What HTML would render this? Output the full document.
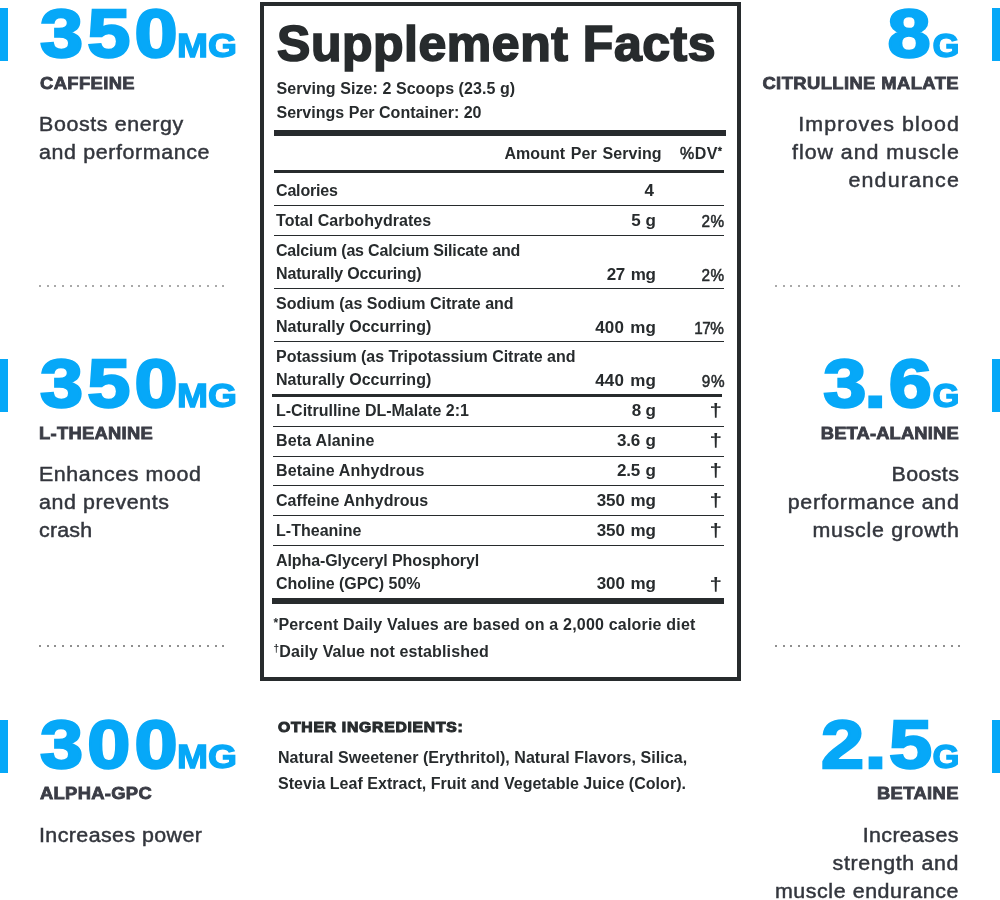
<!DOCTYPE html>
<html lang="en">
<head>
<meta charset="utf-8">
<title>Supplement Facts</title>
<style>
  html,body{margin:0;padding:0;background:#fff;}
  body{width:1000px;height:900px;overflow:hidden;position:relative;
       font-family:"Liberation Sans",Arial,sans-serif;color:#272b2d;}
  .page{position:absolute;left:0;top:0;width:1000px;height:900px;overflow:hidden;will-change:transform;}

  /* ---------- side stat blocks ---------- */
  .stat{position:absolute;width:250px;height:200px;}
  .stat.l{left:0;}
  .stat.r{left:750px;}
  .stat .bar{position:absolute;top:8px;width:8px;height:53px;background:#06a8f8;}
  .stat.l .bar{left:0;}
  .stat.r .bar{right:0;}
  .stat .n,.stat .u{position:absolute;white-space:nowrap;color:#06a8f8;font-weight:700;line-height:1;}
  .stat .n{top:-1px;font-size:68px;-webkit-text-stroke:2.4px #06a8f8;transform:scaleX(1.14);}
  .stat .u{top:28px;font-size:34px;-webkit-text-stroke:1.3px #06a8f8;transform:scaleX(1.095);}
  .stat.l .n{left:39.5px;transform-origin:0 0;letter-spacing:3.6px;}
  .stat.l .u{left:176.5px;transform-origin:0 0;}
  .stat.r .n{right:65px;transform-origin:100% 0;letter-spacing:2.3px;}
  .stat.r .u{right:41px;transform-origin:100% 0;transform:scaleX(1.02);}
  .stat .name{position:absolute;top:72.5px;font-size:17px;line-height:22px;font-weight:700;color:#3a3c45;white-space:nowrap;-webkit-text-stroke:.8px #3a3c45;}
  .stat .desc{position:absolute;top:109.5px;margin:0;font-size:20px;line-height:28px;color:#33363d;white-space:nowrap;}
  .stat .desc span{display:block;transform:scaleX(1.07);-webkit-text-stroke:.45px #33363d;}
  .stat.l .desc span{transform-origin:0 50%;}
  .stat.r .desc span{transform-origin:100% 50%;}
  .stat.l .name{left:40px;transform:scaleX(1.08);transform-origin:0 50%;}
  .stat.l .desc{left:39px;}
  .stat.r .name,.stat.r .desc{right:41.5px;text-align:right;}
  .stat.r .name{transform:scaleX(1.08);transform-origin:100% 50%;}
  .dots{position:absolute;height:2px;width:186px;
        background:repeating-linear-gradient(90deg,#a9a9a9 0 2px,transparent 2px 7.64px);}

  .dots.d2{background:repeating-linear-gradient(90deg,#8f8f8f 0 2px,transparent 2px 7.64px);}

  /* ---------- facts panel ---------- */
  .facts{position:absolute;left:260px;top:2px;width:473px;height:671px;border:4px solid #272b2d;}
  .facts *{position:absolute;white-space:nowrap;margin:0;}
  .facts h1{left:13px;top:8px;font-size:50px;line-height:60px;font-weight:700;-webkit-text-stroke:1.7px #272b2d;}
  .facts .sv{left:12.5px;font-size:16px;line-height:23px;font-weight:700;}
  .rule{left:10px;width:450px;background:#272b2d;}
  .row{left:12px;width:448px;height:23px;font-size:16px;line-height:23px;font-weight:700;}
  .row .nm{left:0;top:0;}
  .row .nm span{position:static;display:block;}
  .row .amt{right:68px;top:.5px;text-align:right;font-size:17px;word-spacing:1.2px;}
  .row .dv{right:0;top:1px;text-align:right;font-weight:400;font-size:17px;-webkit-text-stroke:.55px #272b2d;transform:scaleX(.9);transform-origin:100% 50%;}
  .row .dg{right:2px;top:.5px;font-weight:700;font-size:18px;transform:scaleX(1.25);transform-origin:100% 50%;}
  .row.two{height:46px;}
  .row.two .amt{top:24.5px;}
  .row.two .dv{top:25px;}
  .row.two .dg{top:22.5px;}
  .row.last .amt{top:23px;}
  .row.last .dg{top:24px;}
  .hd .amt{right:62.5px;top:0;font-size:16px;}
  .hd .dv{right:2px;top:0;font-size:16px;transform:none;}
  .hd .dv b{position:static;font-weight:700;-webkit-text-stroke:0;}
  .hd .dv sup{position:static;font-size:11px;line-height:0;vertical-align:4px;}
  .fn{left:9.5px;font-size:16px;line-height:23px;font-weight:700;}
  .fn sup{position:static;font-size:10px;line-height:0;vertical-align:5px;}
  .fn sup.as{font-size:12px;vertical-align:3px;}

  /* ---------- other ingredients ---------- */
  .other{position:absolute;left:278px;top:717px;width:420px;}
  .other h2{margin:0;font-size:14px;line-height:20px;font-weight:700;-webkit-text-stroke:1px #272b2d;white-space:nowrap;transform:scaleX(1.12);transform-origin:0 50%;}
  .other p{margin:8px 0 0;font-size:16px;line-height:25.5px;font-weight:700;white-space:nowrap;}
  .other p span{display:block;}
</style>
</head>
<body>
<div class="page">

  <!-- left column -->
  <section class="stat l" style="top:0px">
    <span class="bar"></span>
    <span class="n">350</span><span class="u">MG</span>
    <div class="name" style="letter-spacing:0.37px">CAFFEINE</div>
    <p class="desc"><span style="letter-spacing:0.57px">Boosts energy</span><span style="letter-spacing:0.58px">and performance</span></p>
  </section>
  <div class="dots" style="left:39px;top:285px"></div>

  <section class="stat l" style="top:350px">
    <span class="bar" style="top:9px;height:53px"></span>
    <span class="n">350</span><span class="u">MG</span>
    <div class="name" style="letter-spacing:0.26px;left:39px">L-THEANINE</div>
    <p class="desc"><span style="letter-spacing:0.56px">Enhances mood</span><span style="letter-spacing:0.53px">and prevents</span><span style="letter-spacing:0.2px">crash</span></p>
  </section>
  <div class="dots d2" style="left:39px;top:645px"></div>

  <section class="stat l" style="top:711px">
    <span class="bar" style="top:9px;height:53px"></span>
    <span class="n">300</span><span class="u">MG</span>
    <div class="name" style="letter-spacing:0.29px;top:72px">ALPHA-GPC</div>
    <p class="desc"><span style="letter-spacing:0.39px">Increases power</span></p>
  </section>

  <!-- right column -->
  <section class="stat r" style="top:0px">
    <span class="bar"></span>
    <span class="n" style="right:67px">8</span><span class="u">G</span>
    <div class="name" style="letter-spacing:0.39px;margin-right:-0.39px">CITRULLINE MALATE</div>
    <p class="desc"><span style="letter-spacing:1.02px;margin-right:-1.02px">Improves blood</span><span style="letter-spacing:0.89px;margin-right:-0.89px">flow and muscle</span><span style="letter-spacing:1.07px;margin-right:-1.07px">endurance</span></p>
  </section>
  <div class="dots" style="left:775px;top:285px"></div>

  <section class="stat r" style="top:350px">
    <span class="bar" style="top:9px;height:53px"></span>
    <span class="n" style="right:65.5px">3<span style="margin-left:-4px">.</span>6</span><span class="u">G</span>
    <div class="name" style="letter-spacing:0.13px;margin-right:-0.13px">BETA-ALANINE</div>
    <p class="desc"><span style="letter-spacing:0.35px;margin-right:-0.35px">Boosts</span><span style="letter-spacing:0.62px;margin-right:-0.62px">performance and</span><span style="letter-spacing:0.65px;margin-right:-0.65px">muscle growth</span></p>
  </section>
  <div class="dots d2" style="left:775px;top:645px"></div>

  <section class="stat r" style="top:711px">
    <span class="bar" style="top:9px;height:53px"></span>
    <span class="n" style="right:65.5px">2<span style="margin-left:-1.8px">.</span>5</span><span class="u">G</span>
    <div class="name" style="letter-spacing:0.35px;margin-right:-0.35px;top:72px">BETAINE</div>
    <p class="desc"><span style="letter-spacing:0.33px;margin-right:-0.33px">Increases</span><span style="letter-spacing:0.58px;margin-right:-0.58px">strength and</span><span style="letter-spacing:0.53px;margin-right:-0.53px">muscle endurance</span></p>
  </section>

  <!-- facts panel -->
  <div class="facts">
    <h1 style="letter-spacing:0.53px">Supplement Facts</h1>
    <p class="sv" style="top:71px;letter-spacing:0.07px">Serving Size: 2 Scoops (23.5 g)</p>
    <p class="sv" style="top:95px;letter-spacing:0.02px">Servings Per Container: 20</p>
    <div class="rule" style="top:124px;height:6px;width:452px"></div>
    <div class="row hd" style="top:136px"><span class="amt" style="letter-spacing:0.05px;margin-right:-0.05px">Amount Per Serving</span><span class="dv" style="letter-spacing:0.4px;margin-right:-0.4px">%<b>DV</b><sup>*</sup></span></div>
    <div class="rule" style="top:164px;height:3px"></div>
    <div class="row" style="top:172.5px"><span class="nm" style="letter-spacing:-0.17px">Calories</span><span class="amt" style="letter-spacing:1.0px;margin-right:-1.0px;right:70px">4</span></div>
    <div class="rule" style="top:199px;height:1px"></div>
    <div class="row" style="top:202.5px"><span class="nm" style="letter-spacing:0.04px">Total Carbohydrates</span><span class="amt" style="letter-spacing:-0.5px;margin-right:0.5px">5 g</span><span class="dv" style="letter-spacing:0.4px;margin-right:-0.4px">2%</span></div>
    <div class="rule" style="top:229px;height:1px"></div>
    <div class="row two" style="top:232.5px"><span class="nm"><span style="letter-spacing:-0.18px">Calcium (as Calcium Silicate and</span><span style="letter-spacing:-0.16px">Naturally Occuring)</span></span><span class="amt" style="letter-spacing:-0.25px;margin-right:0.25px">27 mg</span><span class="dv" style="letter-spacing:0.4px;margin-right:-0.4px">2%</span></div>
    <div class="rule" style="top:282px;height:1px"></div>
    <div class="row two" style="top:285.5px"><span class="nm"><span style="letter-spacing:0.01px">Sodium (as Sodium Citrate and</span><span style="letter-spacing:0.03px">Naturally Occurring)</span></span><span class="amt" style="letter-spacing:0.2px;margin-right:-0.2px">400 mg</span><span class="dv" style="letter-spacing:-0.6px;margin-right:0.6px">17%</span></div>
    <div class="rule" style="top:335px;height:1px"></div>
    <div class="row two" style="top:338.5px"><span class="nm"><span style="letter-spacing:-0.03px">Potassium (as Tripotassium Citrate and</span><span style="letter-spacing:0.03px">Naturally Occurring)</span></span><span class="amt" style="letter-spacing:0.2px;margin-right:-0.2px">440 mg</span><span class="dv" style="letter-spacing:0.9px;margin-right:-0.9px">9%</span></div>
    <div class="rule" style="top:388px;height:3px;left:8px"></div>
    <div class="row" style="top:392.5px"><span class="nm" style="letter-spacing:0.0px">L-Citrulline DL-Malate 2:1</span><span class="amt" style="letter-spacing:-0.75px;margin-right:0.75px">8 g</span><span class="dg">†</span></div>
    <div class="rule" style="top:420px;height:1px;left:9px;width:451px"></div>
    <div class="row" style="top:422.5px"><span class="nm" style="letter-spacing:0.18px">Beta Alanine</span><span class="amt" style="letter-spacing:-0.25px;margin-right:0.25px">3.6 g</span><span class="dg">†</span></div>
    <div class="rule" style="top:450px;height:1px;left:9px;width:451px"></div>
    <div class="row" style="top:452.5px"><span class="nm" style="letter-spacing:0.15px">Betaine Anhydrous</span><span class="amt" style="letter-spacing:-0.25px;margin-right:0.25px">2.5 g</span><span class="dg">†</span></div>
    <div class="rule" style="top:479px;height:1px;left:9px;width:451px"></div>
    <div class="row" style="top:482.5px"><span class="nm" style="letter-spacing:0.05px">Caffeine Anhydrous</span><span class="amt" style="letter-spacing:-0.1px;margin-right:0.1px">350 mg</span><span class="dg">†</span></div>
    <div class="rule" style="top:509px;height:1px;left:9px;width:451px"></div>
    <div class="row" style="top:512.5px"><span class="nm" style="letter-spacing:0.02px">L-Theanine</span><span class="amt" style="letter-spacing:-0.1px;margin-right:0.1px">350 mg</span><span class="dg">†</span></div>
    <div class="rule" style="top:539px;height:1px;left:9px;width:451px"></div>
    <div class="row two last" style="top:542.5px"><span class="nm"><span style="letter-spacing:-0.09px">Alpha-Glyceryl Phosphoryl</span><span style="letter-spacing:-0.02px">Choline (GPC) 50%</span></span><span class="amt" style="letter-spacing:-0.1px;margin-right:0.1px">300 mg</span><span class="dg">†</span></div>
    <div class="rule" style="top:592px;height:6px;left:8px;width:452px"></div>
    <p class="fn" style="top:606.5px;letter-spacing:0.2px"><sup class="as">*</sup>Percent Daily Values are based on a 2,000 calorie diet</p>
    <p class="fn" style="top:633.5px;letter-spacing:0.13px"><sup>†</sup>Daily Value not established</p>
  </div>

  <div class="other">
    <h2 style="letter-spacing:0.69px">OTHER INGREDIENTS:</h2>
    <p><span style="letter-spacing:0.05px">Natural Sweetener (Erythritol), Natural Flavors, Silica,</span><span style="letter-spacing:0.03px">Stevia Leaf Extract, Fruit and Vegetable Juice (Color).</span></p>
  </div>

</div>
</body>
</html>
